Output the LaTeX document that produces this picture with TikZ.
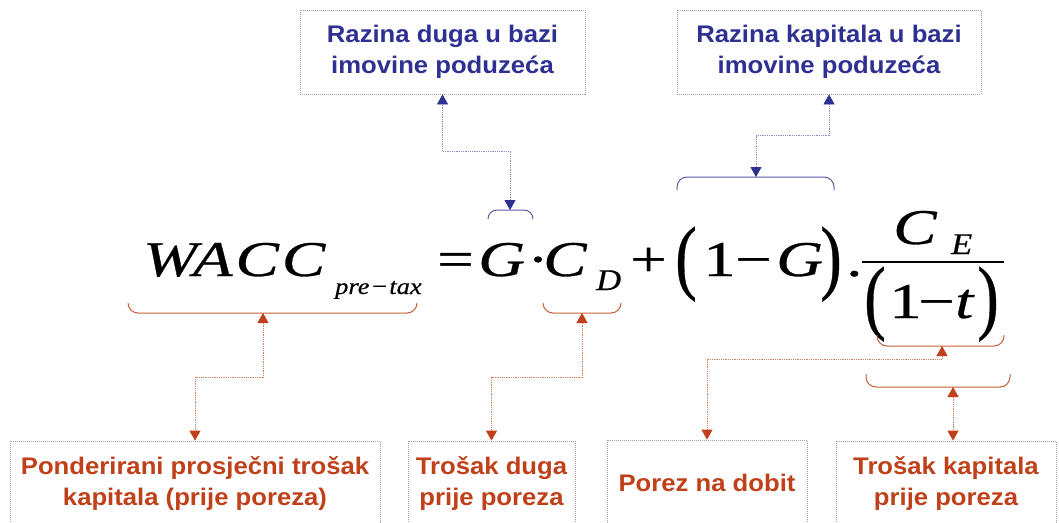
\documentclass[tikz,border=0pt]{standalone}
\usepackage{fontspec}
\setmainfont{Liberation Sans}
\newfontfamily\lab[FakeStretch=1.07]{Liberation Sans}
\newfontfamily\eqf[FakeStretch=1.3,FakeBold=0.6]{Liberation Serif}
\newfontfamily\eqsubf[FakeStretch=1.15,FakeBold=0.5]{Liberation Serif}
\usetikzlibrary{arrows.meta}
\definecolor{tblue}{HTML}{2E3192}
\definecolor{tred}{HTML}{C0401A}
\definecolor{bblue}{HTML}{5A5AA8}
\definecolor{bred}{HTML}{C8603A}
\definecolor{lblue}{HTML}{8C8CC4}
\definecolor{lred}{HTML}{D0805C}
\definecolor{boxgray}{HTML}{A0A0A0}
\begin{document}
\begin{tikzpicture}[x=1pt,y=-1pt,
  box/.style={draw=boxgray, line width=0.8pt, dash pattern=on 1pt off 1pt, inner sep=0pt, align=center, font=\lab\bfseries\fontsize{24}{31}\selectfont},
  bluebox/.style={box, text=tblue},
  redbox/.style={box, text=tred},
  eq/.style={inner sep=0pt, anchor=base west, font=\eqf\fontsize{50}{50}\selectfont},
  eqi/.style={eq, font=\eqf\itshape\fontsize{50}{50}\selectfont},
  eqs/.style={eq, font=\eqsubf\itshape\fontsize{30}{30}\selectfont},
  bbrace/.style={draw=bblue, line width=1pt, rounded corners=9pt},
  rbrace/.style={draw=bred, line width=1pt, rounded corners=10pt},
  bconn/.style={draw=lblue, line width=0.8pt, dash pattern=on 1pt off 0.8pt,
    arrows={Triangle[width=11pt,length=10pt,color=tblue]-Triangle[width=11pt,length=10pt,color=tblue]}},
  rconn/.style={draw=lred, line width=0.8pt, dash pattern=on 1pt off 0.8pt,
    arrows={Triangle[width=11pt,length=10pt,color=tred]-Triangle[width=11pt,length=10pt,color=tred]}}
]
\fill[white] (0,0) rectangle (1059,522);
\useasboundingbox (0,0) rectangle (1059,522);

% top boxes
\node[bluebox, minimum width=285pt, minimum height=84pt] (d1) at (442.5,52) {Razina duga u bazi\\imovine poduzeća};
\node[bluebox, minimum width=304pt, minimum height=84pt] (k1) at (829,52) {Razina kapitala u bazi\\imovine poduzeća};

% bottom boxes
\node[redbox, minimum width=370pt, minimum height=86pt] (p1) at (195,484) {Ponderirani prosječni trošak\\kapitala (prije poreza)};
\node[redbox, minimum width=167pt, minimum height=86pt] (p2) at (491.5,484) {Trošak duga\\prije poreza};
\node[redbox, minimum width=200pt, minimum height=86pt] (p3) at (707,483) {Porez na dobit};
\node[redbox, minimum width=220pt, minimum height=86pt] (p4) at (946,484) {Trošak kapitala\\prije poreza};

% equation
\node[eqi] (wacc) at (143,276) {WA\kern3pt C\kern3pt C};
\node[eqs, font=\eqsubf\itshape\fontsize{23}{23}\selectfont] (sub) at (335,294) {pre\kern1pt−\kern1pt tax};
\node[eq] (eqsign) at (437,276) {=};
\node[eqi] (g1) at (478,276) {G};
\node[eq] (dot) at (527,276) {·};
\node[eqi] (c1) at (543,276) {C};
\node[eqs] (dsub) at (596,290) {D};
\node[eq] (plus) at (630,276) {+};
\node[eq] (lp) at (675,284) {\scalebox{1}[1.65]{(}};
\node[eq] (one1) at (703,276) {1};
\node[eq] (min1) at (735,276) {−};
\node[eqi] (g2) at (776,276) {G};
\node[eq] (rp) at (820,284) {\scalebox{1}[1.65]{)}};
\node[eq] (pt) at (846,276) {.};
\node[eqi] (cn) at (893,244) {C};
\node[eqs] (esub) at (951,254) {E};
\draw[line width=2pt] (862,262) -- (1004,262);
\node[eq] (lp2) at (864,324) {\scalebox{1}[1.65]{(}};
\node[eq] (one2) at (889,318) {1};
\node[eq] (min2) at (918,318) {−};
\node[eqi] (tt) at (955,318) {t};
\node[eq] (rp2) at (977,324) {\scalebox{1}[1.65]{)}};

% brace tips
\coordinate (bG) at (510,210);
\coordinate (bK) at (756,177);
\coordinate (bW) at (263,313);
\coordinate (bD) at (582,313);
\coordinate (bT) at (942,346);
\coordinate (bB) at (953,387);

% braces
\draw[bbrace] (488,219) |- (bG) -| (533,219);
\draw[bbrace, rounded corners=10pt] (677,190) |- (bK) -| (834,190);
\draw[rbrace] (128,303) |- (bW) -| (417,303);
\draw[rbrace] (543,303) |- (bD) -| (621,303);
\draw[rbrace] (877,335) |- (bT) -| (1004,335);
\draw[rbrace] (866,374) |- (bB) -| (1010,374);

% connectors
\draw[bconn] (bG) -- ++(0,-59) -| (d1.south);
\draw[bconn] (bK) -- ++(0,-42) -| (k1.south);
\draw[rconn] (bW) -- ++(0,64) -| (p1.north);
\draw[rconn] (bD) -- ++(0,64) -| (p2.north);
\draw[rconn] (bT) -- ++(0,13) -| (p3.north);
\draw[rconn] (bB) -- (bB |- p4.north);
\end{tikzpicture}
\end{document}
